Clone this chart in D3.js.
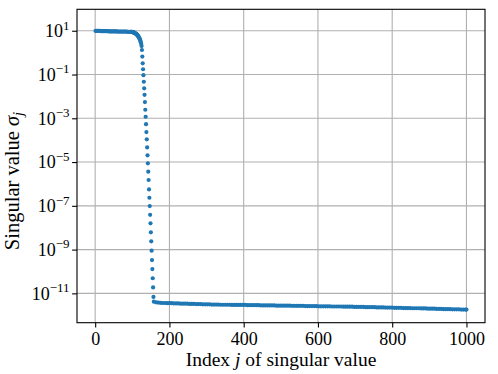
<!DOCTYPE html>
<html>
<head>
<meta charset="utf-8">
<script src="https://cdn.jsdelivr.net/npm/d3@7"></script>
<style>
  body { margin: 0; background: #fff; }
  text { font-family: "Liberation Serif", "DejaVu Serif", serif; fill: #000; }
</style>
</head>
<body>
<div id="chart"></div>
<script>
// singular values, stored as log10(sigma_j)
// plateau: j = 1, 4, 7, ..., 97
const headJ = d3.range(1, 98, 3);
const headExp = [
  0.99, 0.99, 0.99, 0.99, 0.99, 0.98, 0.98, 0.98, 0.98, 0.98, 0.98,
  0.98, 0.97, 0.97, 0.97, 0.97, 0.97, 0.97, 0.97, 0.97, 0.96, 0.96,
  0.96, 0.96, 0.96, 0.96, 0.96, 0.96, 0.96, 0.95, 0.95, 0.95, 0.95
];
// knee and drop: j = 98 ... 157, one per index
const kneeJ = d3.range(98, 158);
const kneeExp = [
  0.95, 0.95, 0.94, 0.94, 0.93, 0.93, 0.92, 0.91, 0.90, 0.89,
  0.88, 0.87, 0.86, 0.85, 0.83, 0.81, 0.79, 0.77, 0.75, 0.72,
  0.69, 0.66, 0.62, 0.58, 0.53, 0.47, 0.40, 0.30,
  0.12, -0.18, -0.49, -0.76, -1.03, -1.33, -1.63, -1.93, -2.26, -2.61,
  -2.93, -3.27, -3.63, -3.96, -4.33, -4.69, -5.06, -5.44, -5.82, -6.25,
  -6.63, -7.01, -7.41, -7.80, -8.21, -8.62, -9.05, -9.48, -9.89, -10.31,
  -10.73, -11.16
];
// tail: j = 158, 164, ..., 998 and 1000
const tailJ = d3.range(158, 1000, 6).concat([1000]);
const tailExp = [
  -11.38, -11.41, -11.42, -11.43, -11.44, -11.44, -11.45, -11.45, -11.45, -11.46,
  -11.46, -11.46, -11.47, -11.47, -11.47, -11.47, -11.48, -11.48, -11.48, -11.49,
  -11.49, -11.49, -11.50, -11.50, -11.50, -11.50, -11.51, -11.51, -11.51, -11.51,
  -11.52, -11.52, -11.52, -11.52, -11.52, -11.53, -11.53, -11.53, -11.53, -11.53,
  -11.53, -11.53, -11.54, -11.54, -11.54, -11.54, -11.54, -11.54, -11.55, -11.55,
  -11.55, -11.55, -11.55, -11.55, -11.55, -11.56, -11.56, -11.56, -11.56, -11.56,
  -11.56, -11.56, -11.57, -11.57, -11.57, -11.57, -11.57, -11.57, -11.58, -11.58,
  -11.58, -11.58, -11.58, -11.58, -11.59, -11.59, -11.59, -11.59, -11.59, -11.59,
  -11.60, -11.60, -11.60, -11.60, -11.60, -11.61, -11.61, -11.61, -11.61, -11.61,
  -11.62, -11.62, -11.62, -11.62, -11.62, -11.63, -11.63, -11.63, -11.63, -11.63,
  -11.64, -11.64, -11.64, -11.64, -11.65, -11.65, -11.65, -11.65, -11.66, -11.66,
  -11.66, -11.66, -11.67, -11.67, -11.67, -11.67, -11.68, -11.68, -11.68, -11.68,
  -11.69, -11.69, -11.69, -11.70, -11.70, -11.70, -11.70, -11.71, -11.71, -11.71,
  -11.72, -11.72, -11.72, -11.72, -11.73, -11.73, -11.73, -11.73, -11.74, -11.74,
  -11.74, -11.74
];

const xTicks = [0, 200, 400, 600, 800, 1000];
const yTickExps = [1, -1, -3, -5, -7, -9, -11];

const points = []
  .concat(headJ.map((j, i) => ({ j: j, s: Math.pow(10, headExp[i]) })))
  .concat(kneeJ.map((j, i) => ({ j: j, s: Math.pow(10, kneeExp[i]) })))
  .concat(tailJ.map((j, i) => ({ j: j, s: Math.pow(10, tailExp[i]) })));

const W = 498, H = 374;
const margin = { top: 9.3, right: 13, bottom: 51.3, left: 77 };
const width = W - margin.left - margin.right;
const height = H - margin.top - margin.bottom;

const svg = d3.select("#chart").append("svg")
  .attr("width", W)
  .attr("height", H);

const g = svg.append("g")
  .attr("transform", `translate(${margin.left},${margin.top})`);

const x = d3.scaleLinear().domain([-48.95, 1049.95]).range([0, width]);
const y = d3.scaleLog().domain([Math.pow(10, -12.34), Math.pow(10, 1.98)]).range([height, 0]);

// grid
g.append("g").selectAll("line")
  .data(xTicks)
  .join("line")
  .attr("x1", d => x(d)).attr("x2", d => x(d))
  .attr("y1", 0).attr("y2", height)
  .attr("stroke", "#b0b0b0").attr("stroke-width", 1.1);

g.append("g").selectAll("line")
  .data(yTickExps)
  .join("line")
  .attr("x1", 0).attr("x2", width)
  .attr("y1", d => y(Math.pow(10, d))).attr("y2", d => y(Math.pow(10, d)))
  .attr("stroke", "#b0b0b0").attr("stroke-width", 1.1);

// points
g.append("g").selectAll("circle")
  .data(points)
  .join("circle")
  .attr("cx", d => x(d.j))
  .attr("cy", d => y(d.s))
  .attr("r", 2.1)
  .attr("fill", "#1f77b4");

// axes
const xAxis = d3.axisBottom(x).tickValues(xTicks).tickSize(4.9).tickPadding(4).tickFormat(d3.format("d"));
const xAxisG = g.append("g")
  .attr("transform", `translate(0,${height})`)
  .call(xAxis);
xAxisG.select(".domain").remove();
xAxisG.selectAll(".tick line").attr("stroke", "#000").attr("stroke-width", 1.1);
xAxisG.selectAll(".tick text")
  .attr("font-size", 18)
  .attr("font-family", "Liberation Serif, serif")
  .attr("y", 22.5).attr("dy", 0);

const yAxis = d3.axisLeft(y).tickValues(yTickExps.map(e => Math.pow(10, e))).tickSize(4.9).tickFormat(() => "");
const yAxisG = g.append("g").call(yAxis);
yAxisG.select(".domain").remove();
yAxisG.selectAll(".tick line").attr("stroke", "#000").attr("stroke-width", 1.1);
yAxisG.selectAll(".tick text").remove();
yAxisG.selectAll(".tick")
  .append("text")
  .attr("text-anchor", "end")
  .attr("x", -7.5)
  .attr("y", 5.8)
  .attr("font-size", 18)
  .each(function (d) {
    const t = d3.select(this);
    t.append("tspan").text("10");
    t.append("tspan")
      .attr("font-size", 13)
      .attr("dy", -7.5)
      .text(String(Math.round(Math.log10(d))).replace("-", "\u2212"));
  });

// frame
g.append("rect")
  .attr("width", width).attr("height", height)
  .attr("fill", "none").attr("stroke", "#000").attr("stroke-width", 1.1);

// axis labels
const xl = svg.append("text")
  .attr("x", margin.left + width / 2)
  .attr("y", 365.5)
  .attr("text-anchor", "middle")
  .attr("font-size", 19.5);
xl.append("tspan").text("Index ");
xl.append("tspan").attr("font-style", "italic").text("j");
xl.append("tspan").text(" of singular value");

const yl = svg.append("text")
  .attr("transform", "translate(19,181) rotate(-90)")
  .attr("text-anchor", "middle")
  .attr("font-size", 20.5);
yl.append("tspan").text("Singular value ");
yl.append("tspan").attr("font-style", "italic").text("\u03c3");
yl.append("tspan").attr("font-style", "italic").attr("font-size", 14.5).attr("dy", 4).text("j");
</script>
</body>
</html>
